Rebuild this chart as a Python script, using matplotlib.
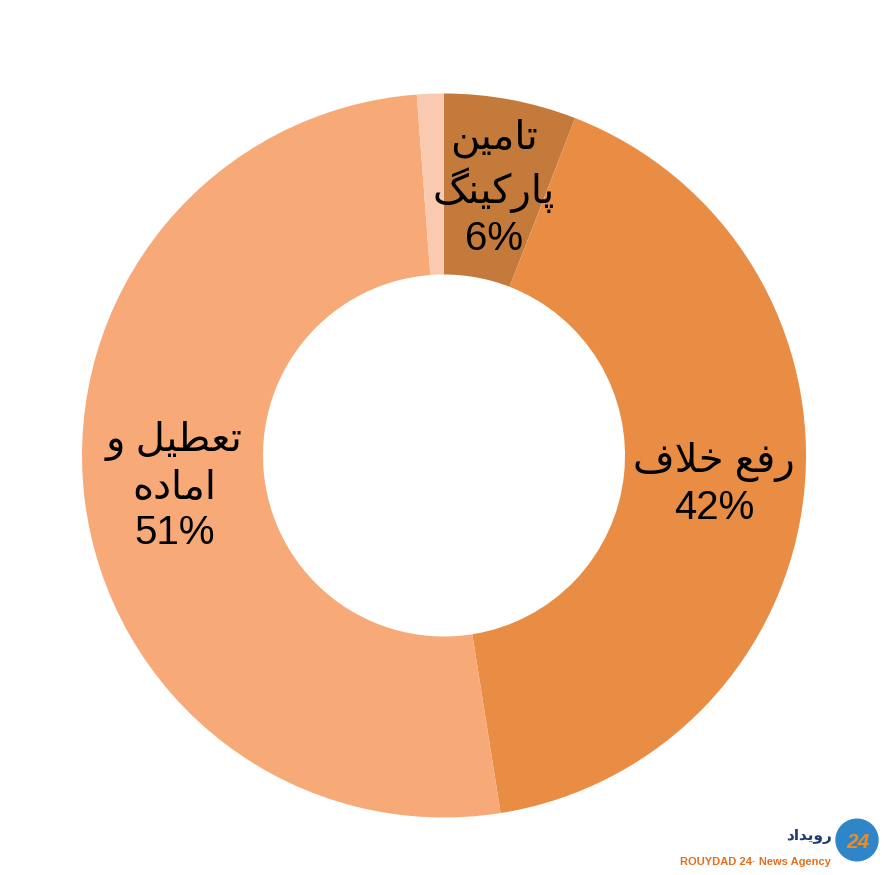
import matplotlib.pyplot as plt
import numpy as np

labels = ["تامین\nپارکینگ", "رفع خلاف", "تعطیل و\nاماده", ""]
values = [5.9, 41.6, 51.3, 1.2]
pct_text = ["6%", "42%", "51%", ""]
colors = ["#C47A3B", "#E98D44", "#F7AA78", "#F9CAB0"]

# simple persian shaping: (isolated, final, initial, medial)
FORMS = {
    "ا": ("\uFE8D", "\uFE8E"),
    "ر": ("\uFEAD", "\uFEAE"),
    "د": ("\uFEA9", "\uFEAA"),
    "و": ("\uFEED", "\uFEEE"),
    "ت": ("\uFE95", "\uFE96", "\uFE97", "\uFE98"),
    "م": ("\uFEE1", "\uFEE2", "\uFEE3", "\uFEE4"),
    "ی": ("\uFBFC", "\uFBFD", "\uFBFE", "\uFBFF"),
    "ن": ("\uFEE5", "\uFEE6", "\uFEE7", "\uFEE8"),
    "پ": ("\uFB56", "\uFB57", "\uFB58", "\uFB59"),
    "ک": ("\uFB8E", "\uFB8F", "\uFB90", "\uFB91"),
    "گ": ("\uFB92", "\uFB93", "\uFB94", "\uFB95"),
    "ف": ("\uFED1", "\uFED2", "\uFED3", "\uFED4"),
    "ع": ("\uFEC9", "\uFECA", "\uFECB", "\uFECC"),
    "خ": ("\uFEA5", "\uFEA6", "\uFEA7", "\uFEA8"),
    "ل": ("\uFEDD", "\uFEDE", "\uFEDF", "\uFEE0"),
    "ط": ("\uFEC1", "\uFEC2", "\uFEC3", "\uFEC4"),
    "ه": ("\uFEE9", "\uFEEA", "\uFEEB", "\uFEEC"),
}


def shape_line(s):
    out = []
    i = 0
    chars = list(s)
    n = len(chars)
    while i < n:
        c = chars[i]
        if c not in FORMS:
            out.append(c)
            i += 1
            continue
        prev = chars[i - 1] if i > 0 else " "
        joins_prev = prev in FORMS and len(FORMS[prev]) == 4
        if c == "ل" and i + 1 < n and chars[i + 1] == "ا":
            out.append("\uFEFC" if joins_prev else "\uFEFB")
            i += 2
            continue
        nxt = chars[i + 1] if i + 1 < n else " "
        joins_next = len(FORMS[c]) == 4 and nxt in FORMS
        f = FORMS[c]
        if joins_prev and joins_next:
            out.append(f[3])
        elif joins_prev:
            out.append(f[1])
        elif joins_next:
            out.append(f[2])
        else:
            out.append(f[0])
        i += 1
    return "".join(out)[::-1]


def shape(text):
    return "\n".join(shape_line(l) for l in text.split("\n"))


fig = plt.figure(figsize=(8.84, 8.75), dpi=100)
ax = fig.add_axes([0, 0, 1, 1])

wedges, _ = ax.pie(values, colors=colors, startangle=90, counterclock=False,
                   radius=1, wedgeprops=dict(width=0.5, linewidth=0))

for w, lab, p in zip(wedges, labels, pct_text):
    if not p:
        continue
    ang = np.deg2rad((w.theta1 + w.theta2) / 2)
    x, y = 0.75 * np.cos(ang), 0.75 * np.sin(ang)
    ax.text(x, y, shape(lab) + "\n" + p, ha="center", va="center",
            fontsize=29, linespacing=1.25,
            family=["Liberation Sans", "DejaVu Sans"], color="black")

# pixel layout: center (444, 455.5), radius 362 px
s = 362.0
ax.set_xlim(-444 / s, (884 - 444) / s)
ax.set_ylim(-(875 - 455.5) / s, 455.5 / s)
ax.set_aspect("auto")
ax.axis("off")

# watermark
fig.text(755 / 884, 1 - 862 / 875, "ROUYDAD 24· News Agency", ha="center", va="center",
         fontsize=8, fontweight="bold", color="#E0701E", family="Liberation Sans")
circ = plt.Circle((857 / 884, 1 - 840 / 875), 21 / 884, transform=fig.transFigure,
                  color="#2E86C8", zorder=5)
fig.add_artist(circ)
fig.text(858 / 884, 1 - 842 / 875, "24", ha="center", va="center", fontsize=15,
         fontweight="bold", color="#F08A24", family="Liberation Sans", style="italic", zorder=6)
fig.text(832 / 884, 1 - 836 / 875, shape("رویداد"), ha="right", va="center", fontsize=11,
         fontweight="bold", color="#1F3A6E", family="DejaVu Sans", zorder=6)

fig.savefig("out.png", dpi=100)
